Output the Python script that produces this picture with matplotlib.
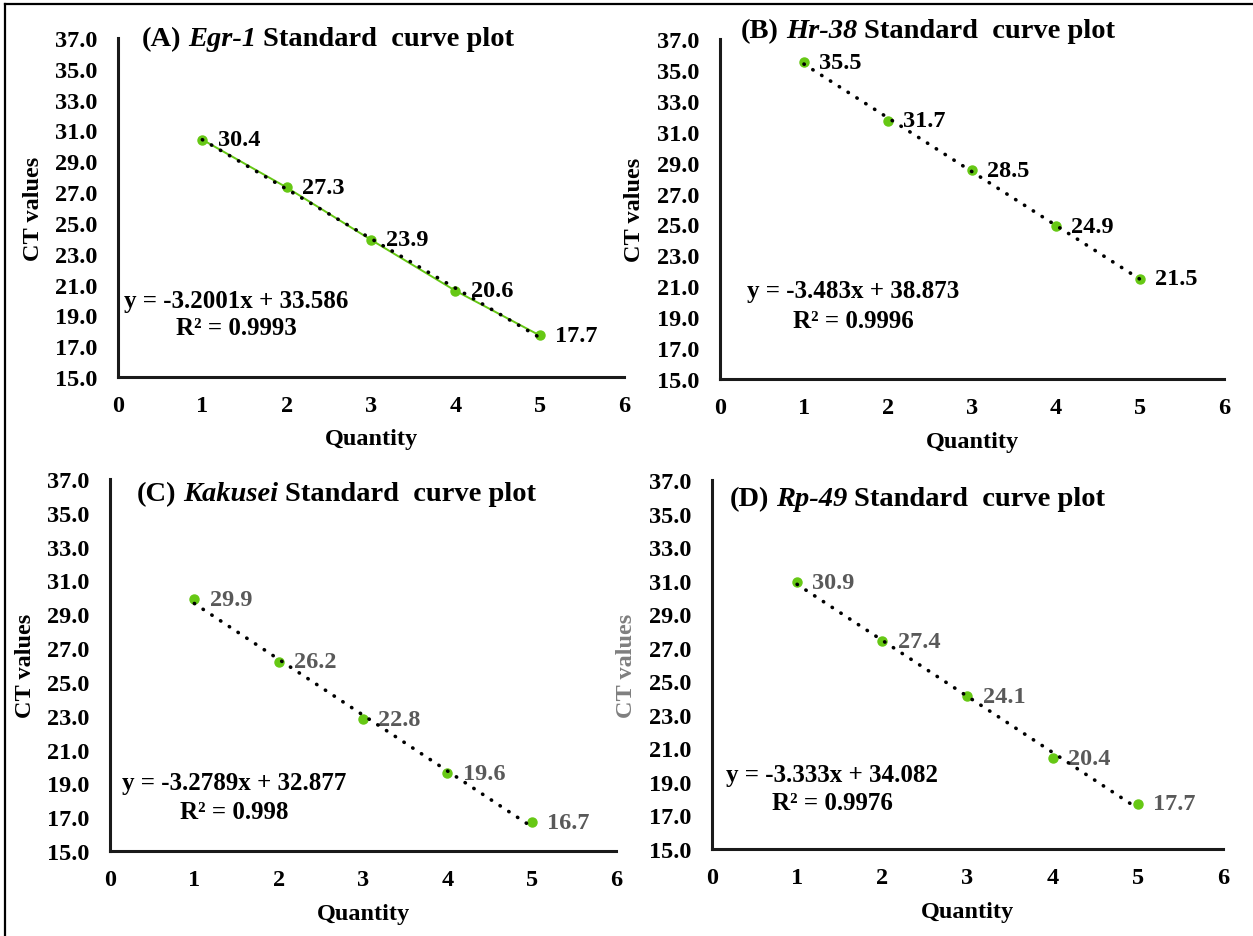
import numpy as np
import matplotlib
matplotlib.use('Agg')
import matplotlib.pyplot as plt
from matplotlib.lines import Line2D

# ---------------- data ----------------
quantity = [1, 2, 3, 4, 5]
ct_egr1 = [30.4, 27.3, 23.9, 20.6, 17.7]
ct_hr38 = [35.5, 31.7, 28.5, 24.9, 21.5]
ct_kakusei = [29.9, 26.2, 22.8, 19.6, 16.7]
ct_rp49 = [30.9, 27.4, 24.1, 20.4, 17.7]

panel_letters = ['(A)', '(B)', '(C)', '(D)']
gene_names = ['Egr-1', 'Hr-38', 'Kakusei', 'Rp-49']
title_rest = 'Standard  curve plot'
equations = ['y = -3.2001x + 33.586', 'y = -3.483x + 38.873',
             'y = -3.2789x + 32.877', 'y = -3.333x + 34.082']
r2_texts = ['R\u00b2 = 0.9993', 'R\u00b2 = 0.9996', 'R\u00b2 = 0.998', 'R\u00b2 = 0.9976']
y_ticks = [15, 17, 19, 21, 23, 25, 27, 29, 31, 33, 35, 37]
x_ticks = [0, 1, 2, 3, 4, 5, 6]
x_label = 'Quantity'
y_label = 'CT values'

series = [ct_egr1, ct_hr38, ct_kakusei, ct_rp49]

# ---------------- style ----------------
plt.rcParams['font.family'] = ['Liberation Serif', 'DejaVu Serif']
plt.rcParams['font.weight'] = 'bold'

W, H = 1253, 937
fig = plt.figure(figsize=(W / 100, H / 100), dpi=100)
fig.patch.set_facecolor('white')

positions = [
    [0.0942, 0.5966, 0.4038, 0.3618],
    [0.5746, 0.5944, 0.4022, 0.3629],
    [0.0878, 0.0907, 0.4038, 0.3970],
    [0.5682, 0.0928, 0.4078, 0.3939],
]
title_xy = [(0.047, 0.998), (0.042, 1.026), (0.053, 0.962), (0.035, 0.949)]
eq_xy = [(0.233, 0.226, 0.147), (0.264, 0.259, 0.171),
         (0.245, 0.183, 0.105), (0.235, 0.203, 0.127)]
label_colors = ['black', 'black', '#595959', '#595959']
ylabel_colors = ['black', 'black', 'black', '#7f7f7f']
green = '#66c814'

TICK_FS = 17.5
TITLE_FS = 20.5
EQ_FS = 18
LAB_FS = 17.5
AX_FS = 17.5

for i in range(4):
    ax = fig.add_axes(positions[i])
    yv = series[i]
    if i == 0:
        ax.plot(quantity, yv, color=green, lw=1.4, zorder=2)
    ax.plot(quantity, yv, 'o', color=green, ms=6.5, mec=green, zorder=3)
    coef = np.polyfit(quantity, yv, 1)
    xs = np.array([quantity[0], quantity[-1]])
    ax.plot(xs, np.polyval(coef, xs), color='black', lw=2.6,
            linestyle=(0, (0.1, 2.8)), dash_capstyle='round', zorder=4)

    for xq, yq in zip(quantity, yv):
        ax.annotate(f'{yq:.1f}', xy=(xq, yq), xytext=(11, 0),
                    textcoords='offset points', ha='left', va='center',
                    fontsize=LAB_FS, fontweight='bold', color=label_colors[i])

    ax.set_xlim(0, 6)
    ax.set_ylim(15, 37)
    ax.set_xticks(x_ticks)
    ax.set_yticks(y_ticks)
    ax.set_yticklabels([f'{t:.1f}' for t in y_ticks])
    ax.tick_params(axis='both', length=0, labelsize=TICK_FS)
    ax.tick_params(axis='x', pad=13)
    ax.tick_params(axis='y', pad=15)
    for lab in ax.get_xticklabels() + ax.get_yticklabels():
        lab.set_fontweight('bold')
    for s in ['top', 'right']:
        ax.spines[s].set_visible(False)
    for s in ['left', 'bottom']:
        ax.spines[s].set_linewidth(2.2)
        ax.spines[s].set_color('#1a1a1a')
    ax.patch.set_alpha(0)

    # axis labels
    ax.annotate(x_label, xy=(0.5, 0), xycoords='axes fraction',
                xytext=(0, -62), textcoords='offset pixels',
                ha='center', va='center', fontsize=AX_FS, fontweight='bold')
    ax.annotate(y_label, xy=(0, 0.5), xycoords='axes fraction',
                xytext=(-85, 0), textcoords='offset pixels', rotation=90,
                ha='center', va='center', fontsize=AX_FS, fontweight='bold',
                color=ylabel_colors[i])

    # title
    tx, ty = title_xy[i]
    t1 = ax.text(tx, ty, panel_letters[i], transform=ax.transAxes,
                 ha='left', va='center', fontsize=TITLE_FS, fontweight='bold')
    t2 = ax.annotate(gene_names[i], xy=(1, 0), xycoords=t1, xytext=(5, 0),
                     textcoords='offset points', ha='left', va='bottom',
                     fontsize=TITLE_FS, fontweight='bold', fontstyle='italic')
    ax.annotate(title_rest, xy=(1, 0), xycoords=t2, xytext=(5, 0),
                textcoords='offset points', ha='left', va='bottom',
                fontsize=TITLE_FS, fontweight='bold')

    # equation
    ex, ey1, ey2 = eq_xy[i]
    ax.text(ex, ey1, equations[i], transform=ax.transAxes, ha='center',
            va='center', fontsize=EQ_FS, fontweight='bold')
    ax.text(ex, ey2, r2_texts[i], transform=ax.transAxes, ha='center',
            va='center', fontsize=EQ_FS, fontweight='bold')

# figure border (top and left)
fig.add_artist(Line2D([5 / W, 1.0], [1 - 5 / H, 1 - 5 / H], color='black', lw=1.6,
                      transform=fig.transFigure))
fig.add_artist(Line2D([5 / W, 5 / W], [0.0, 1 - 5 / H], color='black', lw=1.6,
                      transform=fig.transFigure))

fig.savefig('out.png', dpi=100, facecolor='white')
